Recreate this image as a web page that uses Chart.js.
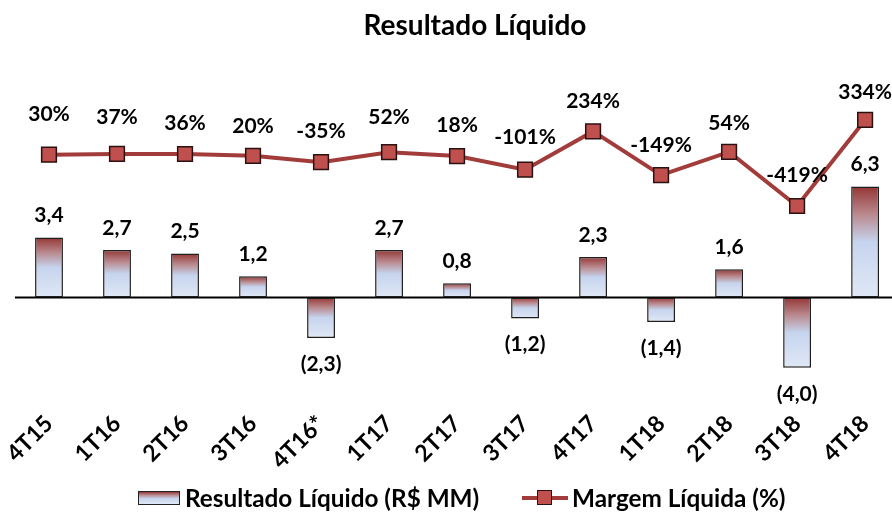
<!DOCTYPE html>
<html>
<head>
<meta charset="utf-8">
<script src="https://cdn.jsdelivr.net/npm/chart.js@4.4.1/dist/chart.umd.min.js"></script>
<style>
  html, body { margin: 0; padding: 0; background: #fff; overflow: hidden; }
  #wrap { position: relative; width: 911px; height: 513px; font-family: Lato, "Open Sans", sans-serif; font-weight: bold; color: #000; }
  #chart { position: absolute; left: 0; top: 0; }
  #title { position: absolute; top: 7px; left: 475px; transform: translateX(-50%); font-size: 28px; white-space: nowrap; }
  .legend-item { position: absolute; top: 483px; display: flex; align-items: center; font-size: 24.3px; white-space: nowrap; }
  .swatch { width: 40px; height: 12px; border: 1px solid #222; margin-right: 5px;
    background: linear-gradient(to bottom, #943634 0%, #B9898E 25%, #C6D4EE 55%, #E0E8F5 100%); }
  .line-mark { position: relative; width: 46px; height: 16px; margin-right: 4px; }
  .line-mark::before { content: ""; position: absolute; left: 0; right: 0; top: 6px; height: 4px; background: #A13C3A; }
  .line-mark::after { content: ""; position: absolute; left: 15px; top: 0; width: 13px; height: 13px; background: #C0504D; border: 1.5px solid #2b1111; }
</style>
</head>
<body>
<div id="wrap">
  <canvas id="chart" width="911" height="513"></canvas>
  <div id="title">Resultado Líquido</div>
  <div class="legend-item" style="left:138px"><span class="swatch"></span>Resultado Líquido (R$ MM)</div>
  <div class="legend-item" style="left:522px"><span class="line-mark"></span>Margem Líquida (%)</div>
</div>
<script>
const quarters = ['4T15', '1T16', '2T16', '3T16', '4T16*', '1T17', '2T17', '3T17', '4T17', '1T18', '2T18', '3T18', '4T18'];
const netIncome = [3.4, 2.7, 2.5, 1.2, -2.3, 2.7, 0.8, -1.2, 2.3, -1.4, 1.6, -4.0, 6.3];
const netMargin = [30, 37, 36, 20, -35, 52, 18, -101, 234, -149, 54, -419, 334];

// how far each margin label sits above its marker (px)
const marginLabelLift = [40, 37, 31, 30, 31, 35, 31, 32, 30, 30, 29, 31, 28];

const labelFont = 'bold 21px Lato, "Open Sans", sans-serif';

function barGradient(context) {
    const chart = context.chart;
    const {ctx, chartArea, scales} = chart;
    if (!chartArea || !scales.y) return '#C6D4EE';
    const value = netIncome[context.dataIndex];
    const y0 = scales.y.getPixelForValue(0);
    const y1 = scales.y.getPixelForValue(value);
    const top = Math.min(y0, y1);
    const bottom = Math.max(y0, y1) + 0.01;
    const g = ctx.createLinearGradient(0, top, 0, bottom);
    g.addColorStop(0, '#943634');
    g.addColorStop(0.25, '#B9898E');
    g.addColorStop(0.5, '#C6D4EE');
    g.addColorStop(1, '#E0E8F5');
    return g;
}

const zeroLine = {
    id: 'zeroLine',
    beforeDatasetsDraw(chart) {
        const {ctx, chartArea, scales} = chart;
        const y = scales.y.getPixelForValue(0);
        ctx.save();
        ctx.strokeStyle = '#000';
        ctx.lineWidth = 2;
        ctx.beginPath();
        ctx.moveTo(chartArea.left, y);
        ctx.lineTo(chartArea.right, y);
        ctx.stroke();
        ctx.restore();
    }
};

const valueLabels = {
    id: 'valueLabels',
    afterDatasetsDraw(chart) {
        const ctx = chart.ctx;
        ctx.save();
        ctx.font = labelFont;
        ctx.fillStyle = '#000';
        ctx.textAlign = 'center';
        ctx.textBaseline = 'middle';

        chart.getDatasetMeta(0).data.forEach((bar, i) => {
            const value = netIncome[i];
            const text = Math.abs(value).toFixed(1).replace('.', ',');
            if (value >= 0) {
                ctx.fillText(text, bar.x, bar.y - 22);
            } else {
                ctx.fillText('(' + text + ')', bar.x, bar.y + 26);
            }
        });

        chart.getDatasetMeta(1).data.forEach((point, i) => {
            ctx.fillText(netMargin[i] + '%', point.x, point.y - marginLabelLift[i]);
        });
        ctx.restore();
    }
};

new Chart(document.getElementById('chart'), {
    data: {
        labels: quarters,
        datasets: [
            {
                type: 'bar',
                label: 'Resultado Líquido (R$ MM)',
                data: netIncome,
                yAxisID: 'y',
                backgroundColor: barGradient,
                borderColor: '#1e1e1e',
                borderWidth: 1.5,
                borderSkipped: false,
                categoryPercentage: 1,
                barPercentage: 0.41,
                order: 2
            },
            {
                type: 'line',
                label: 'Margem Líquida (%)',
                data: netMargin,
                yAxisID: 'y2',
                borderColor: '#A13C3A',
                borderWidth: 4,
                tension: 0,
                pointStyle: 'rect',
                pointRadius: 10.4,
                pointHoverRadius: 10.4,
                pointBackgroundColor: '#C0504D',
                pointBorderColor: '#2b1111',
                pointBorderWidth: 1.5,
                order: 1
            }
        ]
    },
    options: {
        responsive: false,
        animation: false,
        layout: { padding: { left: 15, right: 0, top: 60, bottom: 0 } },
        plugins: {
            legend: { display: false },
            title: { display: false },
            tooltip: { enabled: false }
        },
        scales: {
            x: {
                offset: true,
                grid: { display: false, drawTicks: false },
                border: { display: false },
                ticks: {
                    minRotation: 45,
                    maxRotation: 45,
                    padding: 20,
                    color: '#000',
                    font: { family: 'Lato', weight: 'bold', size: 23 }
                },
                afterFit(scale) {
                    scale.height = 123;
                    scale.paddingLeft = 0;
                    scale.paddingRight = 0;
                }
            },
            y: {
                display: false,
                min: -5.26,
                max: 13.49
            },
            y2: {
                display: false,
                min: -2030,
                max: 859
            }
        }
    },
    plugins: [zeroLine, valueLabels]
});
</script>
</body>
</html>
